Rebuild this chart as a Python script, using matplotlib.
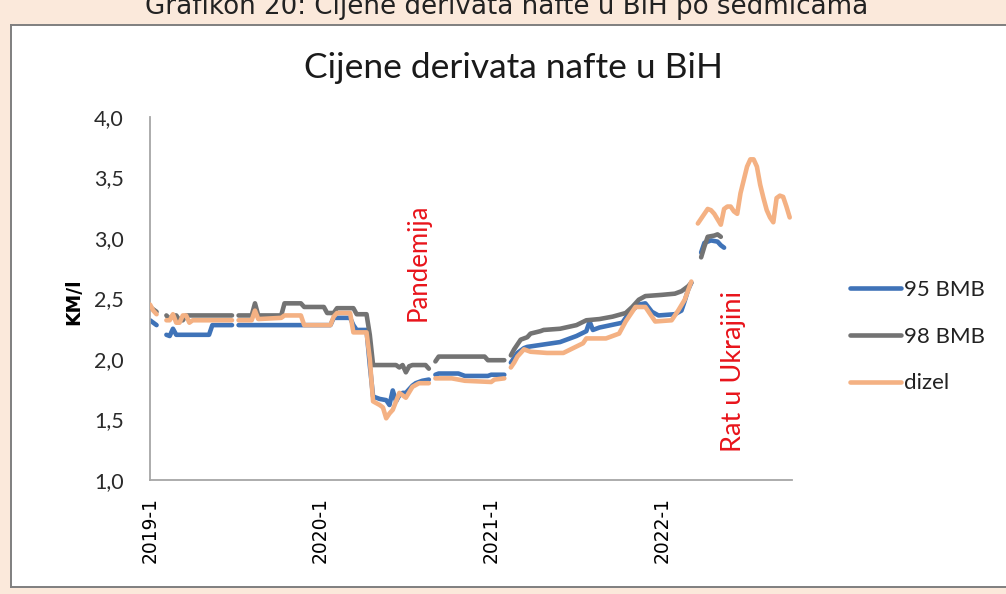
import numpy as np
import matplotlib
matplotlib.use("Agg")
import matplotlib.pyplot as plt

# ---------------- data (week index since 2019-1, price KM/l) ----------------
nan = np.nan
weeks_95 = [0, 1, 2, 3, 5, 6, 7, 8, 18, 19, 25, 26, 27, 55, 56, 61, 62, 63, 66, 67, 68, 70, 72, 73, 74, 75, 76, 77, 78, 80, 81, 83, 85, 86,
            87, 88, 94, 96, 103, 104, 108, 109, 110, 111, 112, 114, 115, 120, 125, 130, 133, 134, 135, 137, 144, 146, 149, 151, 153,
            155, 160, 162, 163, 164, 165, 166, 168, 169, 171, 173, 174, 175]
bmb95 = [2.32, 2.30, 2.28, nan, 2.20, 2.19, 2.25, 2.20, 2.20, 2.28, 2.28, nan, 2.28, 2.28, 2.34, 2.34, 2.28, 2.24, 2.24, 1.95, 1.69,
         1.67, 1.66, 1.62, 1.74, 1.65, 1.70, 1.72, 1.72, 1.78, 1.80, 1.82, 1.83, nan,
         1.87, 1.88, 1.88, 1.86, 1.86, 1.87, 1.87, nan, 1.97, 2.01, 2.05, 2.09, 2.10, 2.12, 2.14, 2.19, 2.23, 2.31, 2.24, 2.26, 2.30,
         2.38, 2.45, 2.46, 2.39, 2.36, 2.37, 2.40, 2.48, 2.57, 2.63, nan, 2.88, 2.96, 2.98, 2.97, 2.94, 2.92]

weeks_98 = [0, 1, 2, 3, 5, 6, 7, 8, 9, 10, 11, 25, 26, 27, 31, 32, 33, 40, 41, 46, 47, 53, 54, 56, 57, 62, 63, 66, 67, 68, 75, 76, 77,
            78, 79, 80, 84, 85, 86, 87, 88, 102, 103, 108, 109, 110, 111, 112, 113, 115, 116, 119, 120, 125, 130, 133, 137, 141,
            145, 147, 149, 151, 156, 160, 162, 164, 165, 166, 168, 169, 170, 172, 173, 174]
bmb98 = [2.43, 2.41, 2.39, nan, 2.36, 2.33, 2.36, 2.36, 2.32, 2.32, 2.36, 2.36, nan, 2.36, 2.36, 2.46, 2.36, 2.36, 2.46, 2.46, 2.43,
         2.43, 2.38, 2.38, 2.42, 2.42, 2.37, 2.37, 2.20, 1.95, 1.95, 1.93, 1.95,
         1.89, 1.94, 1.95, 1.95, 1.92, nan, 1.98, 2.02, 2.02, 1.99, 1.99, nan, 2.03, 2.08, 2.12, 2.16, 2.18, 2.21, 2.23, 2.24, 2.25,
         2.28, 2.32, 2.33, 2.35, 2.38, 2.43, 2.49, 2.52, 2.53, 2.54, 2.56, 2.60, 2.63, nan, 2.84, 2.93, 3.01, 3.02, 3.03, 3.01]

weeks_diesel = [0, 1, 2, 3, 5, 6, 7, 8, 9, 10, 11, 12, 13, 25, 26, 27, 31, 32, 33, 40, 41, 46, 47, 55, 56, 57, 61, 62, 66, 67, 68, 70,
                71, 72, 73, 74, 75, 76, 78, 80, 82, 85, 86, 87, 92, 96, 104, 105, 108, 109, 110, 111, 112, 114, 116, 121, 126,
                129, 132, 133, 139, 143, 145, 148, 151, 153, 154, 159, 161, 163, 165, 166, 167, 168, 170, 171, 172, 174, 175,
                176, 177, 178, 179, 180, 181, 182, 183, 184, 185, 186, 187, 188, 189, 190, 191, 192, 193, 194, 195]
dizel = [2.45, 2.40, 2.37, nan, 2.32, 2.32, 2.37, 2.30, 2.30, 2.36, 2.36, 2.30, 2.32, 2.32, nan, 2.32, 2.32, 2.40, 2.33, 2.34, 2.36,
         2.36, 2.28, 2.28, 2.35, 2.38, 2.38, 2.22, 2.22, 2.00, 1.65, 1.62,
         1.60, 1.51, 1.55, 1.58, 1.65, 1.72, 1.68, 1.77, 1.80, 1.80, nan, 1.84, 1.84, 1.82, 1.81, 1.83, 1.84, nan, 1.93, 1.97, 2.02,
         2.08, 2.06, 2.05, 2.05, 2.09, 2.13, 2.17, 2.17, 2.21, 2.31, 2.43, 2.43, 2.35, 2.31, 2.32, 2.40, 2.49, 2.64, nan, 3.12,
         3.16, 3.24, 3.23, 3.20, 3.11, 3.24, 3.26, 3.26, 3.22, 3.20, 3.37, 3.48, 3.59, 3.65, 3.65, 3.59, 3.44, 3.33, 3.23, 3.17,
         3.13, 3.33, 3.35, 3.34, 3.26, 3.17]

series_names = ["95 BMB", "98 BMB", "dizel"]
tick_weeks = [0, 52, 104, 156]
tick_labels = ["2019-1", "2020-1", "2021-1", "2022-1"]
y_ticks = [1.0, 1.5, 2.0, 2.5, 3.0, 3.5, 4.0]
y_tick_labels = ["1,0", "1,5", "2,0", "2,5", "3,0", "3,5", "4,0"]

# ---------------- figure ----------------
W, H = 1006, 594
fig = plt.figure(figsize=(W / 100, H / 100), dpi=100)
fig.patch.set_facecolor("#FBE9DB")

# white chart frame (background axes)
bg = fig.add_axes([11 / W, 1 - 587 / H, (W + 5 - 11) / W, (587 - 25) / H], zorder=0)
bg.set_facecolor("white")
bg.set_xticks([])
bg.set_yticks([])
for s in bg.spines.values():
    s.set_color("#7F7F7F")
    s.set_linewidth(1.4)

fig.text(507 / W, 1 - 14 / H, "Grafikon 20: Cijene derivata nafte u BiH po sedmicama",
         ha="center", va="baseline", fontsize=18.8, family="DejaVu Sans", color="#222222")

ax = fig.add_axes([150 / W, 1 - 480 / H, (792 - 150) / W, (480 - 117) / H], zorder=2)
ax.set_facecolor("none")

colors = ["#3F73B8", "#737373", "#F4B183"]
ax.plot(weeks_95, bmb95, color=colors[0], lw=3.3, label=series_names[0], solid_capstyle="round", zorder=2)
ax.plot(weeks_98, bmb98, color=colors[1], lw=3.3, label=series_names[1], solid_capstyle="round", zorder=3)
ax.plot(weeks_diesel, dizel, color=colors[2], lw=3.3, label=series_names[2], solid_capstyle="round", zorder=4)

ax.set_xlim(0, 195.7)
ax.set_ylim(1.0, 4.0)
ax.set_yticks(y_ticks)
ax.set_yticklabels(y_tick_labels, fontsize=15.5, family="Lato", color="#2a2a2a")
ax.set_xticks(tick_weeks)
ax.set_xticklabels(tick_labels, rotation=90, fontsize=13.5, family="DejaVu Sans", color="#000000")
ax.tick_params(axis="y", length=0, pad=19)
ax.tick_params(axis="x", length=0, pad=12)
for s in ["top", "right"]:
    ax.spines[s].set_visible(False)
for s in ["left", "bottom"]:
    ax.spines[s].set_color("#A6A6A6")
    ax.spines[s].set_linewidth(1.3)

fig.text(74 / W, 1 - 302 / H, "KM/l", rotation=90, ha="center", va="center",
         fontsize=13.5, fontweight="bold", family="DejaVu Sans", zorder=5)

fig.text(513 / W, 1 - 68 / H, "Cijene derivata nafte u BiH", ha="center", va="center",
         fontsize=25.5, family="Lato", color="#1a1a1a", zorder=5)

fig.text(418 / W, 1 - 262 / H, "Pandemija", rotation=90, ha="center", va="center",
         fontsize=18.5, family="Lato", color="#E8141B", zorder=5)
fig.text(733 / W, 1 - 372 / H, "Rat u Ukrajini", rotation=90, ha="center", va="center",
         fontsize=19.5, family="Lato", color="#E8141B", zorder=5)

leg = ax.legend(loc="upper left", bbox_to_anchor=(830 / W, 1 - 260 / H),
                bbox_transform=fig.transFigure, frameon=False,
                prop={"family": "Lato", "size": 16}, handlelength=2.3, handletextpad=0.12,
                labelspacing=1.2)
for line in leg.get_lines():
    line.set_linewidth(3.3)
for t in leg.get_texts():
    t.set_color("#222222")

fig.savefig("out.png", dpi=100, facecolor=fig.get_facecolor())
